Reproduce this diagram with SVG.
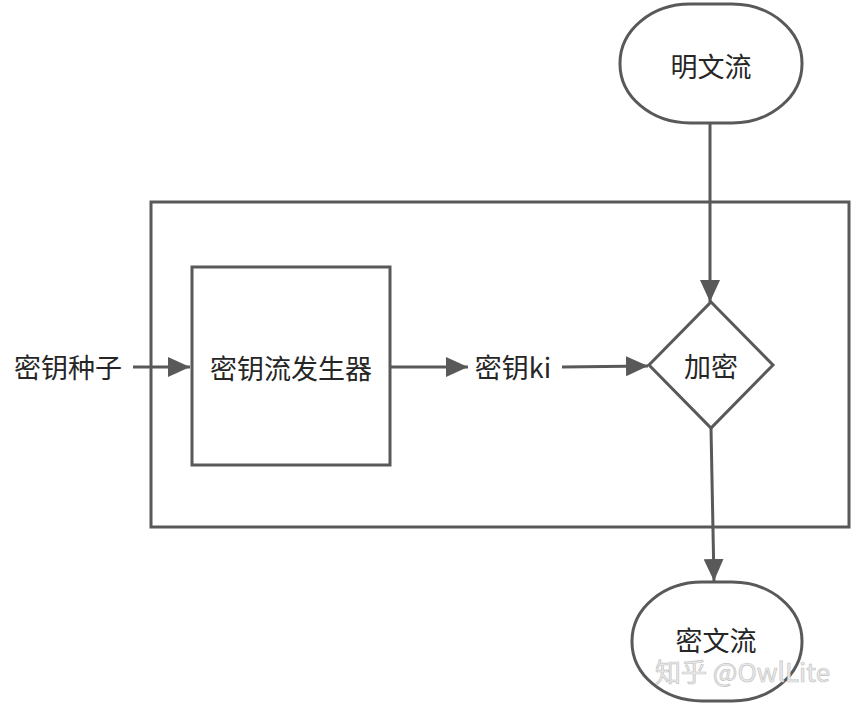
<svg xmlns="http://www.w3.org/2000/svg" width="853" height="705" viewBox="0 0 853 705">
<defs>
<marker id="arrB" markerWidth="22" markerHeight="20" refX="22" refY="10" orient="auto" markerUnits="userSpaceOnUse" viewBox="0 0 22 20">
<path d="M0,0 L22,10 L0,20 Z" fill="#595959"/>
</marker>
</defs>
<style>
.s{fill:#fff;stroke:#595959;stroke-width:3;}
.c{fill:none;stroke:#595959;stroke-width:3;}
.t{font-family:"Noto Sans CJK SC","Microsoft YaHei",sans-serif;font-size:27px;fill:#262626;text-anchor:middle;dominant-baseline:central;}
.w{font-family:"Noto Sans CJK SC","Liberation Sans",sans-serif;font-size:26px;fill:#ececec;stroke:#c4c4c4;stroke-width:0.7;text-anchor:start;}
</style>
<rect width="853" height="705" fill="#fff"/>
<g id="container"><rect class="s" x="151" y="202" width="698" height="325" fill="none"/></g>
<g id="connectors">
<line class="c" x1="710" y1="123" x2="710" y2="302" marker-end="url(#arrB)"/>
<line class="c" x1="133" y1="367" x2="190" y2="367" marker-end="url(#arrB)"/>
<line class="c" x1="390" y1="367" x2="468" y2="367" marker-end="url(#arrB)"/>
<line class="c" x1="562" y1="367" x2="648" y2="366" marker-end="url(#arrB)"/>
<line class="c" x1="711" y1="428" x2="714" y2="581" marker-end="url(#arrB)"/>
</g>
<g id="plaintext"><rect class="s" x="620" y="4" width="182" height="119" rx="70" ry="59"/><text class="t" x="711" y="65">明文流</text></g>
<g id="generator"><rect class="s" x="192" y="267" width="198" height="198"/><text class="t" x="291" y="367">密钥流发生器</text></g>
<g id="encrypt"><polygon class="s" points="711,302 773,365 711,428 649,365"/><text class="t" x="711" y="365">加密</text></g>
<g id="ciphertext"><rect class="s" x="632" y="582" width="170" height="119" rx="70" ry="59"/><text class="t" x="716" y="639">密文流</text></g>
<g id="seed"><text class="t" x="68" y="366">密钥种子</text></g>
<g id="ki"><text class="t" x="513" y="366">密钥ki</text></g>
<text class="w" x="655" y="682">知乎 @OwlLite</text>
</svg>
